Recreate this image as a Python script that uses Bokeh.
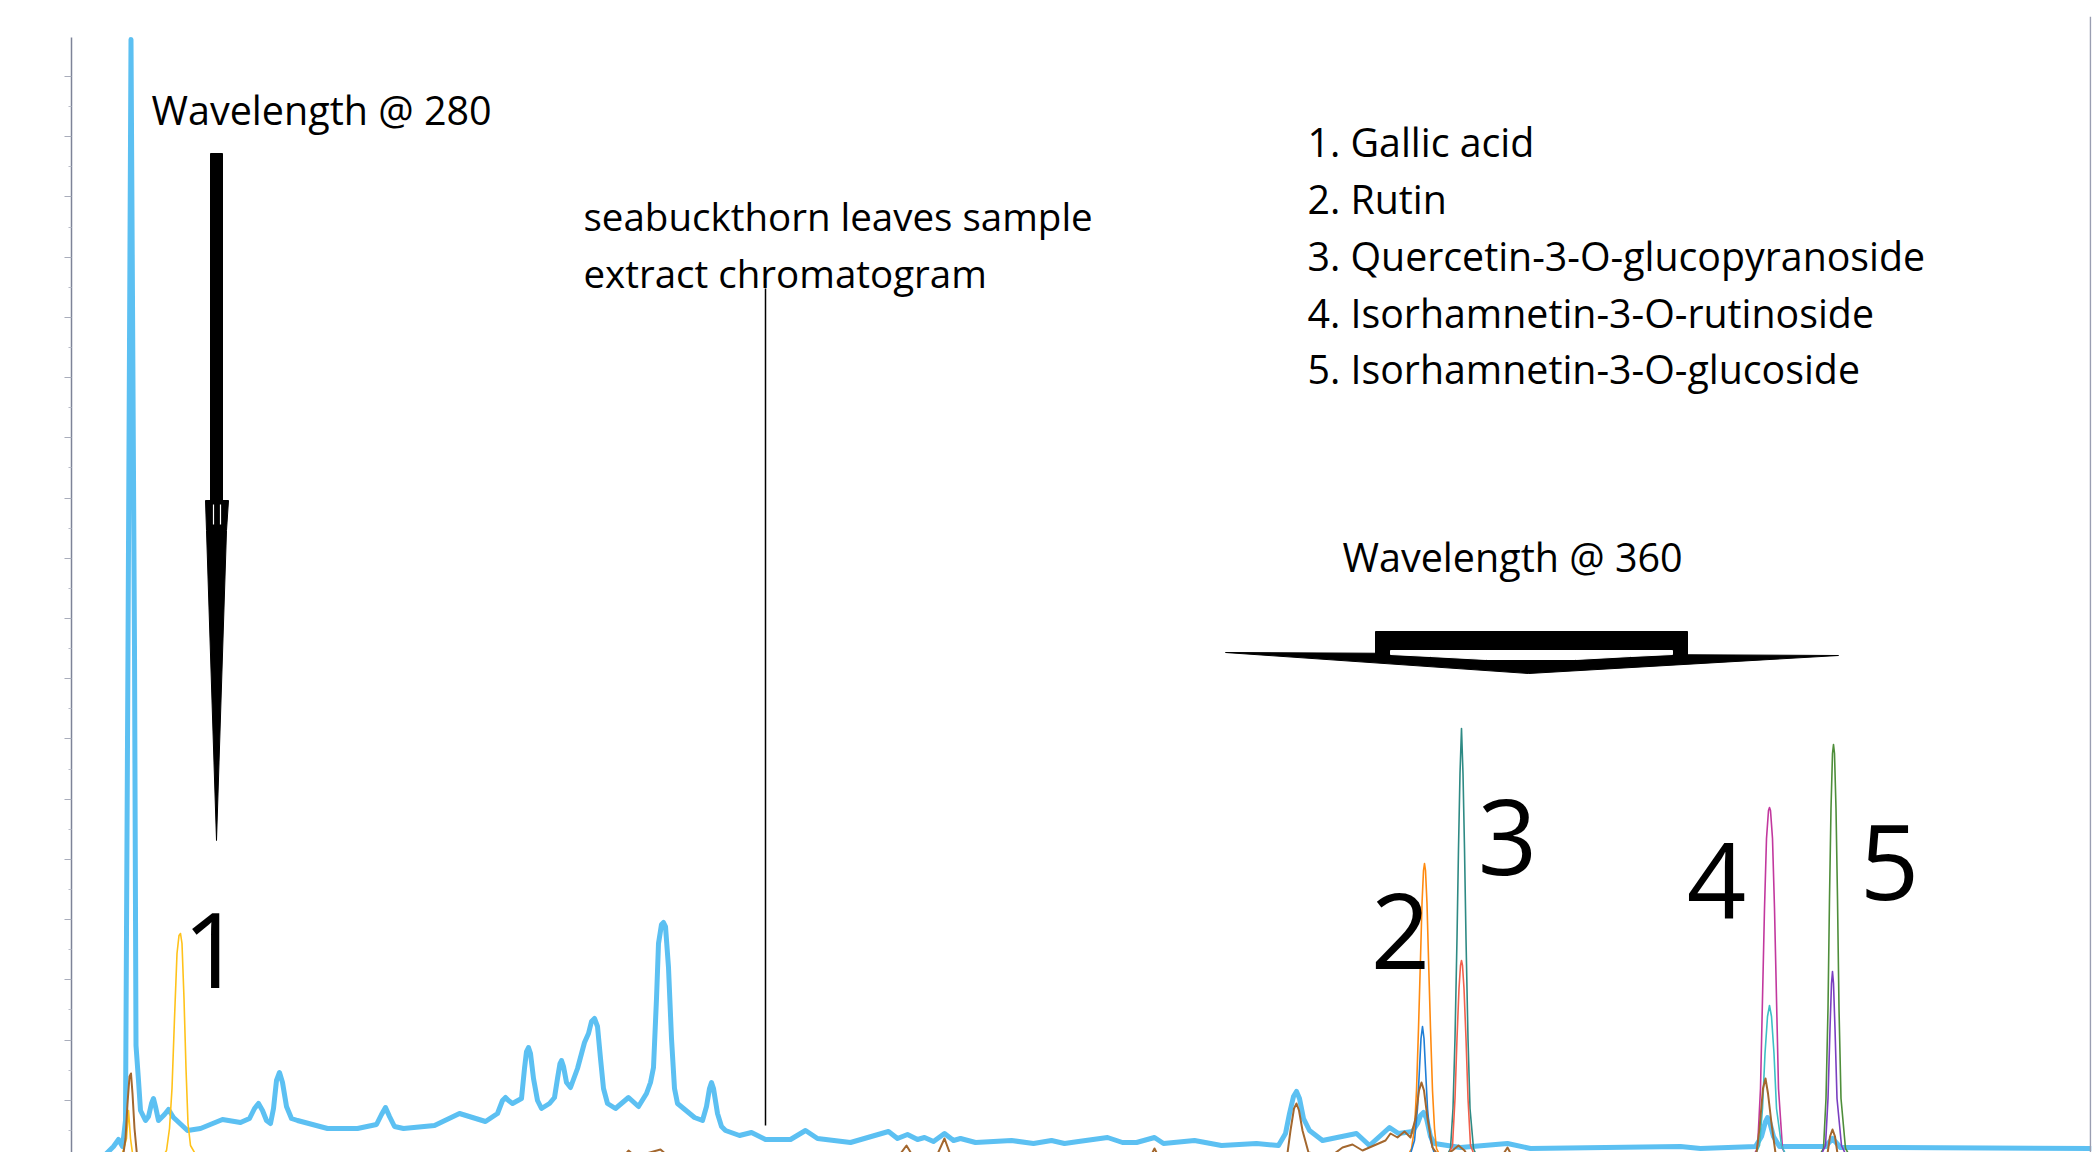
from bokeh.plotting import figure
from bokeh.models import Label, Span, FixedTicker, ColumnDataSource, CustomJSTickFormatter
from bokeh.core.properties import value
from bokeh.embed import file_html
from bokeh.resources import INLINE

# ---------------- data: (retention time [min], absorbance [mAU]) ----------------
# 280 nm trace (light blue)
trace_280 = [
    (0.00, -10), (0.60, -10), (0.84, 2), (0.94, 9), (1.02, 2), (1.08, 28), (1.13, 500), (1.19, 1109),
    (1.26, 500), (1.29, 103), (1.34, 68), (1.38, 38), (1.48, 28), (1.54, 32), (1.60, 45), (1.64, 50),
    (1.68, 42), (1.74, 28), (1.86, 34), (1.94, 39), (2.04, 31), (2.32, 18), (2.58, 20), (3.02, 29),
    (3.38, 26), (3.56, 30), (3.66, 40), (3.74, 45), (3.82, 38), (3.90, 28), (3.98, 25), (4.04, 40),
    (4.10, 68), (4.16, 76), (4.22, 66), (4.30, 42), (4.40, 30), (4.52, 28), (5.12, 20), (5.72, 20),
    (6.10, 24), (6.20, 34), (6.28, 41), (6.36, 32), (6.46, 22), (6.64, 20), (7.26, 23), (7.76, 35),
    (8.28, 27), (8.52, 35), (8.62, 48), (8.68, 51), (8.74, 48), (8.82, 45), (9.00, 50), (9.06, 80),
    (9.10, 97), (9.14, 101), (9.18, 95), (9.24, 70), (9.32, 48), (9.40, 40), (9.56, 45), (9.66, 51),
    (9.72, 70), (9.77, 85), (9.80, 88), (9.84, 82), (9.90, 66), (9.98, 61), (10.12, 80), (10.26, 106),
    (10.34, 115), (10.40, 127), (10.46, 130), (10.52, 122), (10.58, 90), (10.64, 60), (10.72, 45),
    (10.88, 40), (11.14, 51), (11.34, 42), (11.50, 55), (11.58, 66), (11.64, 81), (11.70, 150),
    (11.74, 205), (11.80, 224), (11.84, 226), (11.88, 222), (11.94, 181), (12.00, 110), (12.06, 60),
    (12.12, 45), (12.46, 31), (12.62, 28), (12.70, 42), (12.76, 60), (12.80, 66), (12.84, 60),
    (12.92, 35), (13.00, 22), (13.08, 18), (13.36, 13), (13.60, 16), (13.88, 9), (14.38, 9),
    (14.68, 18), (14.92, 10), (15.58, 6), (16.34, 17), (16.52, 10), (16.72, 14), (16.92, 9),
    (17.06, 11), (17.24, 7), (17.46, 15), (17.64, 8), (17.78, 10), (18.08, 6), (18.80, 8), (19.24, 5),
    (19.60, 8), (19.86, 5), (20.14, 7), (20.72, 11), (21.02, 6), (21.30, 6), (21.66, 11), (21.84, 5),
    (22.46, 8), (23.00, 3), (23.70, 5), (24.14, 3), (24.28, 15), (24.36, 35), (24.44, 52), (24.50, 57),
    (24.56, 50), (24.64, 30), (24.76, 18), (25.02, 8), (25.70, 15), (25.96, 3), (26.36, 21),
    (26.54, 15), (26.82, 17), (26.92, 25), (26.98, 33), (27.04, 36), (27.10, 30), (27.18, 12),
    (27.26, 5), (27.78, 1), (28.72, 5), (29.18, 0), (32.18, 2), (32.58, 0), (33.68, 2), (33.80, 12),
    (33.88, 27), (33.92, 31), (33.96, 27), (34.04, 12), (34.16, 2), (35.08, 2), (35.22, 10),
    (35.38, 1), (36.42, 1), (40.40, 0)]

# peak 1 channel: gallic acid (yellow)
trace_gallic = [
    (0.00, -12), (0.98, -12), (1.10, 10), (1.14, 38), (1.18, 10), (1.24, -12), (1.78, -12), (1.90, -2),
    (1.96, 20), (2.01, 60), (2.06, 130), (2.11, 195), (2.15, 213), (2.18, 215), (2.21, 205),
    (2.25, 150), (2.29, 80), (2.33, 25), (2.38, 3), (2.46, -4), (2.58, -12), (40.40, -12)]

# brown channel
trace_brown = [
    (0.00, -12), (1.02, -12), (1.08, 10), (1.12, 45), (1.16, 72), (1.19, 75), (1.22, 55), (1.26, 20),
    (1.32, -12), (10.98, -12), (11.14, -2), (11.28, -8), (11.78, -1), (11.94, -8), (16.48, -12),
    (16.70, 3), (16.88, -12), (17.28, -10), (17.46, 10), (17.62, -12), (21.54, -12), (21.66, 0),
    (21.78, -12), (24.30, -12), (24.38, 18), (24.45, 40), (24.50, 45), (24.55, 38), (24.62, 18),
    (24.74, -4), (25.18, -8), (25.42, 1), (25.62, 4), (25.82, -2), (26.28, 8), (26.38, 15),
    (26.52, 11), (26.66, 17), (26.78, 11), (26.88, 30), (26.95, 58), (27.00, 66), (27.05, 58),
    (27.12, 30), (27.22, 1), (27.38, -10), (27.62, -2), (27.74, 3), (27.86, -2), (27.98, -12),
    (28.58, -10), (28.72, 1), (28.86, -12), (33.68, -12), (33.76, 20), (33.83, 60), (33.88, 70),
    (33.93, 55), (34.00, 25), (34.10, -12), (35.10, -12), (35.17, 12), (35.22, 19), (35.27, 12),
    (35.34, -12), (40.40, -12)]

# peak 2: rutin (orange) and dark blue channel
trace_rutin = [
    (0.00, -12), (26.68, -12), (26.80, 0), (26.86, 20), (26.90, 58), (26.94, 120), (26.98, 190),
    (27.01, 245), (27.04, 278), (27.06, 285), (27.08, 278), (27.11, 245), (27.14, 190), (27.18, 120),
    (27.22, 58), (27.26, 20), (27.30, 0), (27.42, -12), (40.40, -12)]
trace_blue2 = [
    (0.00, -12), (26.74, -12), (26.86, 8), (26.92, 40), (26.96, 80), (26.99, 110), (27.02, 122),
    (27.05, 110), (27.08, 80), (27.12, 40), (27.18, 8), (27.30, -12), (40.40, -12)]

# peak 3: quercetin-3-O-glucopyranoside (teal) and red channel
trace_querc = [
    (0.00, -12), (27.46, -12), (27.58, 0), (27.63, 40), (27.67, 110), (27.71, 210), (27.74, 300),
    (27.77, 375), (27.80, 420), (27.83, 375), (27.86, 300), (27.89, 210), (27.93, 110), (27.97, 40),
    (28.04, 0), (28.14, -12), (40.40, -12)]
trace_red3 = [
    (0.00, -12), (27.50, -12), (27.62, 3), (27.67, 50), (27.71, 110), (27.75, 160), (27.78, 183),
    (27.80, 188), (27.82, 183), (27.85, 160), (27.89, 110), (27.93, 50), (27.98, 3), (28.10, -12),
    (40.40, -12)]

# peak 4: isorhamnetin-3-O-rutinoside (magenta) and cyan channel
trace_isoru = [
    (0.00, -12), (33.58, -12), (33.72, 0), (33.78, 60), (33.82, 150), (33.86, 240), (33.90, 310),
    (33.94, 338), (33.96, 341), (33.98, 338), (34.02, 310), (34.06, 240), (34.10, 150), (34.14, 60),
    (34.22, 0), (34.34, -12), (40.40, -12)]
trace_cyan4 = [
    (0.00, -12), (33.62, -12), (33.76, 3), (33.82, 40), (33.87, 95), (33.92, 132), (33.96, 143),
    (34.00, 132), (34.05, 95), (34.10, 40), (34.20, 3), (34.34, -12), (40.40, -12)]

# peak 5: isorhamnetin-3-O-glucoside (green) and purple channel
trace_isogl = [
    (0.00, -12), (34.90, -12), (35.04, 0), (35.09, 50), (35.13, 140), (35.16, 250), (35.19, 340),
    (35.22, 395), (35.24, 404), (35.26, 395), (35.29, 340), (35.32, 250), (35.35, 140), (35.39, 50),
    (35.48, 0), (35.62, -12), (40.40, -12)]
trace_purp5 = [
    (0.00, -12), (34.94, -12), (35.08, 3), (35.13, 50), (35.17, 120), (35.20, 165), (35.22, 177),
    (35.24, 165), (35.27, 120), (35.31, 50), (35.40, 3), (35.54, -12), (40.40, -12)]

# peak labels and compound list
peak_ids = ["1", "2", "3", "4", "5"]
peak_lbl_t = [2.82, 26.58, 28.72, 32.90, 36.36]
peak_lbl_a = [198, 217, 311, 268, 286]
compounds = ["1. Gallic acid", "2. Rutin", "3. Quercetin-3-O-glucopyranoside",
             "4. Isorhamnetin-3-O-rutinoside", "5. Isorhamnetin-3-O-glucoside"]
compound_a = [1007, 950, 893, 836, 780]
compound_t = 24.72

# annotation shapes
arrow280_shaft_t = [2.78, 3.02, 3.02, 2.78]
arrow280_shaft_a = [995, 995, 648, 648]
arrow280_head_t = [2.68, 3.14, 3.10, 2.90, 2.70]
arrow280_head_a = [648, 648, 618, 308, 618]
arrow360_tri_t = [23.08, 35.34, 29.14]
arrow360_tri_a = [496, 493, 475]
arrow360_bar_t = [26.08, 32.32, 32.32, 26.08]
arrow360_bar_a = [517, 517, 492, 492]
arrow360_gap_t = [26.38, 32.02, 32.02, 31.18, 30.08, 28.30, 27.18, 26.38]
arrow360_gap_a = [498, 498, 494, 492, 489, 489, 492, 494]

FONT = "Open Sans"


def unzip(pts):
    return [q[0] for q in pts], [q[1] for q in pts]


p = figure(width=2093, height=1152, x_range=(0, 40.40), y_range=(-4, 1132),
           output_backend="svg", toolbar_location=None, x_axis_location=None,
           min_border_left=71, min_border_right=2, min_border_top=16, min_border_bottom=0)
p.outline_line_color = None
p.grid.visible = False
p.background_fill_color = "white"

major = [1072 - 60.22 * k for k in range(18)]
minor = [v - 30.11 for v in major]
ax = p.yaxis[0]
ax.ticker = FixedTicker(ticks=major, minor_ticks=minor)
ax.bounds = (-4, 1111)
ax.formatter = CustomJSTickFormatter(code="return ''")
ax.major_label_text_color = None
ax.axis_line_color = "#7d8398"
ax.axis_line_width = 1.5
ax.major_tick_line_color = "#a9adbb"
ax.minor_tick_line_color = "#b9bcc8"
ax.major_tick_out = 7
ax.major_tick_in = 0
ax.minor_tick_out = 3
ax.minor_tick_in = 0

p.add_layout(Span(location=40.38, dimension="height", line_color="#9a9eb2", line_width=1.5))

# traces
styles = [
    (trace_280, "#5CC0F2", 5.0),
    (trace_gallic, "#FFC21A", 1.6),
    (trace_rutin, "#FF8A10", 1.6),
    (trace_blue2, "#1F7ED6", 1.6),
    (trace_querc, "#2E8A84", 1.6),
    (trace_red3, "#F2604C", 1.6),
    (trace_isoru, "#C2389E", 1.6),
    (trace_cyan4, "#3DBFC6", 1.6),
    (trace_isogl, "#4E8E3A", 1.6),
    (trace_purp5, "#7A3FC0", 1.6),
    (trace_brown, "#A3672E", 2.0),
]
for pts, col, w in styles:
    tx, ay = unzip(pts)
    p.line(tx, ay, line_color=col, line_width=w, line_join="round")

# arrows
p.patch(arrow280_shaft_t, arrow280_shaft_a, color="black")
p.patch(arrow280_head_t, arrow280_head_a, color="black")
p.segment(x0=[2.84, 2.98], y0=[644, 644], x1=[2.84, 2.98], y1=[624, 624], line_color="white", line_width=1.2)
p.patch(arrow360_tri_t, arrow360_tri_a, color="black")
p.patch(arrow360_bar_t, arrow360_bar_a, color="black")
p.patch(arrow360_gap_t, arrow360_gap_a, color="white")

# pointer line for the sample text
p.segment(x0=[13.88], y0=[860], x1=[13.88], y1=[23], line_color="black", line_width=1.5)


def lab(x, y, txt, size):
    p.add_layout(Label(x=x, y=y, text=txt, text_font=FONT, text_font_size=size,
                       text_color="black", text_align="left", text_baseline="alphabetic"))


lab(1.60, 1039, "Wavelength @ 280", "39.5px")
lab(25.42, 592, "Wavelength @ 360", "39.5px")
lab(10.24, 933, "seabuckthorn leaves sample", "38.5px")
lab(10.24, 876, "extract chromatogram", "38.5px")

src_c = ColumnDataSource(dict(x=[compound_t] * len(compounds), y=compound_a, text=compounds))
p.text(x="x", y="y", text="text", source=src_c, text_font=value(FONT), text_font_size=value("39.3px"),
       text_color="black", text_align="left", text_baseline="alphabetic")

src_p = ColumnDataSource(dict(x=peak_lbl_t, y=peak_lbl_a, text=peak_ids))
p.text(x="x", y="y", text="text", source=src_p, text_font=value(FONT), text_font_size=value("104px"),
       text_color="black", text_align="center", text_baseline="alphabetic")

open("out.html", "w").write(file_html(p, INLINE))
